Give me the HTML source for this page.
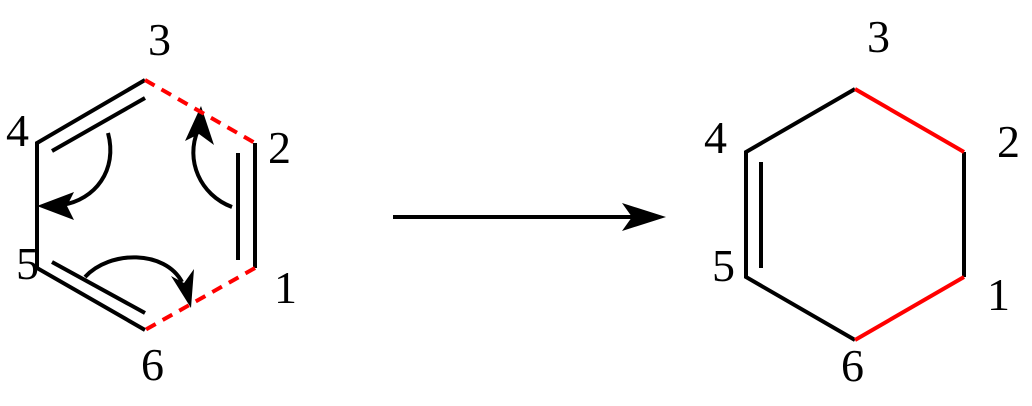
<!DOCTYPE html>
<html><head><style>body{margin:0;background:#fff}svg{display:block}text{font-family:"Liberation Serif","Times New Roman",serif;font-size:46px}</style></head><body>
<svg width="1032" height="406" viewBox="0 0 1032 406" xmlns="http://www.w3.org/2000/svg">
<g stroke="#000" stroke-width="4" fill="none">
<path d="M145,80 L37,143 L37,268 L145,330"/>
<line x1="255" y1="143" x2="255" y2="268"/>
<line x1="145" y1="98" x2="52" y2="151"/>
<line x1="238" y1="153" x2="238" y2="260"/>
<line x1="52" y1="262" x2="145" y2="313"/>
<path d="M964,152 L964,277"/>
<path d="M855,340 L746,277 L746,152 L855,89"/>
<line x1="761" y1="162" x2="761" y2="268"/>
<line x1="393" y1="217" x2="640" y2="217"/>
<path d="M108,133 C118,170 95,200 62,205"/>
<path d="M232,207 C200,195 185,160 198,130"/>
<path d="M85,277 C110,250 165,250 182,282"/>
</g>
<path d="M37,206 L74,192 L67,206 L74,220z" fill="#000"/>
<path d="M201,106 L185,141 L199,134 L214,145z" fill="#000"/>
<path d="M191,308 L171,276 L184,283 L194,269z" fill="#000"/>
<path d="M666,217 L622,203 L632,217 L622,231z" fill="#000"/>
<g stroke="#f00" stroke-width="4" fill="none">
<line x1="145" y1="80" x2="255" y2="143" stroke-dasharray="11,8"/>
<line x1="255" y1="268" x2="145" y2="330" stroke-dasharray="11,8"/>
<line x1="855" y1="89" x2="964" y2="152"/>
<line x1="964" y1="277" x2="855" y2="340"/>
</g>
<g fill="#000">
<text x="148" y="55">3</text>
<text x="6" y="146">4</text>
<text x="268" y="163">2</text>
<text x="16" y="279">5</text>
<text x="274" y="303">1</text>
<text x="141" y="380">6</text>
<text x="867" y="52">3</text>
<text x="704" y="153">4</text>
<text x="997" y="157">2</text>
<text x="712" y="281">5</text>
<text x="987" y="310">1</text>
<text x="841" y="381">6</text>
</g>
</svg>
</body></html>
